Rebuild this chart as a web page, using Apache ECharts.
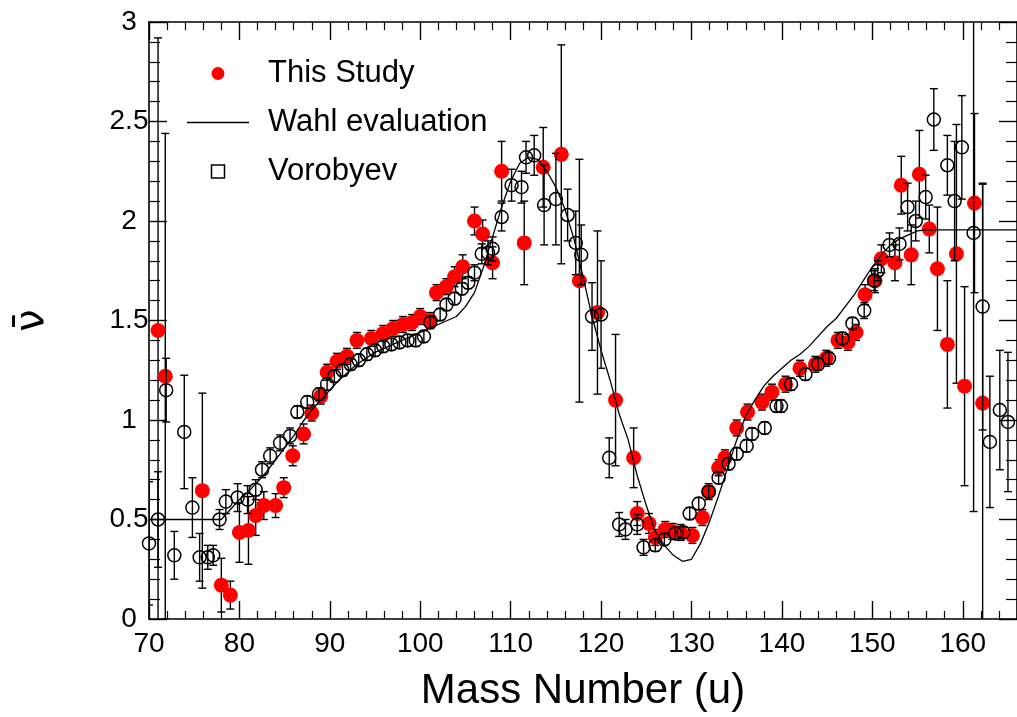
<!DOCTYPE html>
<html>
<head>
<meta charset="utf-8">
<script src="https://cdn.jsdelivr.net/npm/echarts@6/dist/echarts.min.js"></script>
<style>
html,body{margin:0;padding:0;background:#fff;}
#c{width:1017px;height:717px;}
</style>
</head>
<body>
<div id="c"></div>
<script>
// ---- This Study (red) ----
const studyMass = [71.0,71.8,75.9,78.0,79.0,80.0,81.0,81.8,82.7,84.0,84.9,85.9,87.1,88.0,89.0,89.7,90.8,91.9,93.0,94.6,95.9,97.0,98.1,99.1,100.0,101.1,101.8,102.9,103.8,104.7,106.0,106.9,108.0,109.0,111.5,113.6,115.6,117.6,119.6,121.6,123.6,124.0,125.3,126.0,127.1,127.9,128.8,130.1,131.2,131.9,133.0,133.7,135.0,136.2,137.8,138.9,140.4,142.0,143.7,144.9,146.2,147.3,148.2,149.2,150.3,151.0,152.5,153.2,154.3,155.2,156.3,157.2,158.3,159.3,160.2,161.3,162.2];
const studyNu = [1.45,1.22,0.645,0.17,0.12,0.435,0.445,0.52,0.57,0.57,0.66,0.82,0.93,1.035,1.12,1.24,1.295,1.32,1.40,1.41,1.435,1.46,1.48,1.49,1.52,1.50,1.64,1.67,1.72,1.77,2.00,1.935,1.79,2.25,1.89,2.27,2.335,1.70,1.54,1.10,0.81,0.53,0.48,0.41,0.45,0.44,0.435,0.42,0.51,0.64,0.76,0.81,0.96,1.04,1.09,1.14,1.18,1.26,1.28,1.31,1.40,1.39,1.44,1.63,1.70,1.81,1.79,2.18,1.83,2.235,1.96,1.76,1.38,1.835,1.17,2.09,1.085];
const studyErr = [1.47,1.22,0.49,0.135,0.07,0.15,0.17,0.10,0.07,0.06,0.05,0.05,0.05,0.04,0.04,0.04,0.04,0.04,0.04,0.04,0.04,0.04,0.04,0.04,0.04,0.04,0.04,0.04,0.05,0.06,0.07,0.07,0.08,0.15,0.21,0.20,0.55,0.61,0.41,0.33,0.15,0.06,0.05,0.04,0.04,0.04,0.04,0.04,0.04,0.04,0.04,0.04,0.04,0.04,0.04,0.04,0.04,0.04,0.04,0.04,0.04,0.04,0.04,0.05,0.06,0.07,0.09,0.145,0.15,0.22,0.12,0.31,0.32,0.65,0.50,0.45,1.10];

// ---- Vorobyev (open circles) ----
const vorMass = [70.0,71.0,71.9,72.8,73.9,74.8,75.6,76.5,77.1,77.8,78.5,79.8,80.9,81.8,82.5,83.4,84.5,85.6,86.4,87.5,88.8,89.7,90.5,91.4,92.3,93.2,94.1,95.0,95.9,96.8,97.7,98.6,99.5,100.4,101.1,102.2,102.9,103.8,104.6,105.3,106.0,106.8,107.5,108.0,109.0,110.1,111.2,111.7,112.6,113.7,115.0,116.3,117.2,117.8,119.0,120.0,120.9,122.0,122.7,124.0,124.7,126.0,127.0,128.2,129.1,129.8,130.8,131.9,133.0,134.1,135.0,136.1,136.7,138.1,139.4,139.9,141.0,142.6,144.0,145.2,146.7,147.8,149.1,150.2,150.6,151.9,153.0,153.9,154.8,155.9,156.8,158.3,159.1,159.9,161.2,162.2,163.0,164.1,165.0];
const vorNu = [0.38,0.50,1.15,0.32,0.94,0.56,0.31,0.31,0.32,0.50,0.59,0.61,0.60,0.65,0.75,0.82,0.885,0.92,1.04,1.09,1.13,1.18,1.22,1.25,1.28,1.30,1.33,1.35,1.37,1.38,1.39,1.40,1.40,1.42,1.49,1.53,1.58,1.61,1.66,1.69,1.74,1.835,1.84,1.86,2.02,2.18,2.17,2.32,2.33,2.08,2.11,2.03,1.89,1.83,1.52,1.53,0.81,0.475,0.45,0.475,0.36,0.37,0.40,0.43,0.435,0.53,0.58,0.64,0.71,0.78,0.83,0.87,0.93,0.96,1.07,1.07,1.18,1.23,1.28,1.31,1.41,1.485,1.55,1.70,1.75,1.88,1.885,2.07,2.00,2.12,2.51,2.28,2.10,2.37,1.94,1.57,0.89,1.05,0.99];
const vorErr = [0.31,0.24,0.16,0.12,0.285,0.15,0.12,0.06,0.05,0.05,0.06,0.07,0.07,0.05,0.04,0.04,0.04,0.04,0.03,0.03,0.03,0.03,0.03,0.03,0.03,0.03,0.03,0.03,0.03,0.03,0.03,0.03,0.03,0.03,0.03,0.03,0.03,0.03,0.03,0.03,0.04,0.05,0.06,0.06,0.07,0.08,0.08,0.08,0.10,0.20,0.23,0.13,0.16,0.15,0.17,0.27,0.10,0.06,0.05,0.05,0.04,0.03,0.03,0.03,0.03,0.03,0.03,0.03,0.03,0.03,0.03,0.03,0.03,0.03,0.03,0.03,0.03,0.03,0.03,0.03,0.03,0.03,0.04,0.05,0.05,0.06,0.08,0.12,0.10,0.11,0.155,0.15,0.30,0.26,1.40,0.62,0.33,0.30,0.35];

// ---- Wahl evaluation (line) ----
const wahlMass = [70,78,79,80,81,82,83,84,85,86,87,88,89,90,91,92,93,94,95,96,97,98,99,100,101,102,103,104,105,106,107,108,109,110,111,112,113,114,115,116,117,118,119,120,121,122,123,124,125,126,127,128,129,130,131,132,133,134,135,136,137,138,139,140,141,142,143,144,145,146,147,148,149,150,151,152,153,154,155,156,166];
const wahlNu = [0.5,0.5,0.55,0.6,0.64,0.69,0.74,0.80,0.86,0.92,0.99,1.05,1.10,1.15,1.20,1.24,1.28,1.31,1.34,1.36,1.38,1.40,1.42,1.44,1.46,1.48,1.50,1.52,1.57,1.64,1.77,1.92,2.07,2.20,2.29,2.32,2.31,2.25,2.17,2.06,1.91,1.72,1.52,1.35,1.20,1.03,0.90,0.72,0.57,0.44,0.37,0.32,0.29,0.30,0.38,0.49,0.62,0.76,0.90,1.02,1.10,1.17,1.22,1.26,1.30,1.33,1.37,1.42,1.47,1.51,1.57,1.63,1.70,1.77,1.83,1.88,1.91,1.93,1.95,1.955,1.955];

// x tick labels
const xTickLabels = ['70','80','90','100','110','120','130','140','150','160'];

const FONT = 'Liberation Sans, Arial, Helvetica, sans-serif';

const studyPts = studyMass.map((m,i)=>[m, studyNu[i], studyErr[i]]);
const vorPts = vorMass.map((m,i)=>[m, vorNu[i], vorErr[i]]);
const wahlPts = wahlMass.map((m,i)=>[m, wahlNu[i]]);

function errRender(params, api){
  const x = api.value(0), y = api.value(1), e = api.value(2);
  const top = api.coord([x, y + e]);
  const bot = api.coord([x, y - e]);
  const w = 4;
  const st = {stroke:'#000', lineWidth:1.4};
  return {type:'group', children:[
    {type:'line', shape:{x1:top[0], y1:top[1], x2:bot[0], y2:bot[1]}, style:st},
    {type:'line', shape:{x1:top[0]-w, y1:top[1], x2:top[0]+w, y2:top[1]}, style:st},
    {type:'line', shape:{x1:bot[0]-w, y1:bot[1], x2:bot[0]+w, y2:bot[1]}, style:st}
  ]};
}

const axisLineStyle = {color:'#000', width:1.6};
function xAx(pos, labels){
  return {
    type:'value', position:pos, min:70, max:166, interval:10,
    axisLine:{show:true, onZero:false, lineStyle:axisLineStyle},
    axisTick:{show:true, inside:true, length:18, lineStyle:{color:'#000', width:1.4}},
    minorTick:{show:true, splitNumber:5, length:8, lineStyle:{color:'#000', width:1.2}},
    splitLine:{show:false}, minorSplitLine:{show:false},
    axisLabel:{show:labels, color:'#000', fontSize:28, fontFamily:FONT, margin:11,
      formatter:function(v){ const s = String(Math.round(v)); return (Math.abs(v % 10) < 1e-6 && xTickLabels.indexOf(s) >= 0) ? s : ''; },
      showMaxLabel:false},
    name: labels ? 'Mass Number (u)' : '',
    nameLocation:'middle', nameGap:51,
    nameTextStyle:{color:'#000', fontSize:42, fontFamily:FONT}
  };
}
function yAx(pos, labels){
  return {
    type:'value', position:pos, min:0, max:3, interval:0.5,
    axisLine:{show:true, onZero:false, lineStyle:axisLineStyle},
    axisTick:{show:true, inside:true, length:18, lineStyle:{color:'#000', width:1.4}},
    minorTick:{show:true, splitNumber:5, length:11, lineStyle:{color:'#000', width:1.2}},
    splitLine:{show:false}, minorSplitLine:{show:false},
    axisLabel:{show:labels, color:'#000', fontSize:28, fontFamily:FONT, margin:20, align:'center'},
    name: labels ? 'ν\u0304' : '',
    nameLocation:'middle', nameGap:96, nameRotate:90,
    nameTextStyle:{color:'#000', fontSize:40, fontFamily:'DejaVu Sans, sans-serif', padding:[0,0,0,0]}
  };
}

const chart = echarts.init(document.getElementById('c'), null, {renderer:'canvas'});
chart.setOption({
  animation:false,
  backgroundColor:'#fff',
  grid:{left:149, top:22, width:872.6, height:600, containLabel:false},
  xAxis:[xAx('bottom', true), xAx('top', false)],
  yAxis:[yAx('left', true), yAx('right', false)],
  legend:{
    orient:'vertical', left:187, top:58, padding:0, itemWidth:62, itemHeight:13, itemGap:18,
    symbolKeepAspect:true,
    textStyle:{color:'#000', fontSize:31, fontFamily:FONT, lineHeight:30, padding:[0,0,0,14]},
    data:[
      {name:'This Study', icon:'circle'},
      {name:'Wahl evaluation', icon:'path://M0,0L60,0L60,1.5L0,1.5Z', itemStyle:{color:'#000'}},
      {name:'Vorobyev', icon:'path://M0,0L10,0L10,10L0,10Z', itemStyle:{color:'#fff', borderColor:'#000', borderWidth:1.5}}
    ],
    selectedMode:false
  },
  series:[
    {name:'This Study err', type:'custom', renderItem:errRender, data:studyPts, clip:true, xAxisIndex:0, yAxisIndex:0, silent:true, z:2},
    {name:'This Study', type:'scatter', data:studyPts.map(p=>[p[0],p[1]]), symbol:'circle', symbolSize:15,
      itemStyle:{color:'#ff0000', opacity:1}, z:3},
    {name:'Vorobyev err', type:'custom', renderItem:errRender, data:vorPts, clip:true, silent:true, z:4},
    {name:'Vorobyev', type:'scatter', data:vorPts.map(p=>[p[0],p[1]]), symbol:'circle', symbolSize:13,
      itemStyle:{color:'rgba(255,255,255,0)', borderColor:'#000', borderWidth:1.5, opacity:1}, z:5},
    {name:'Wahl evaluation', type:'line', data:wahlPts, showSymbol:false, symbol:'none', clip:true,
      lineStyle:{color:'#000', width:1.3}, itemStyle:{color:'#000'}, z:6}
  ]
});
</script>
</body>
</html>
